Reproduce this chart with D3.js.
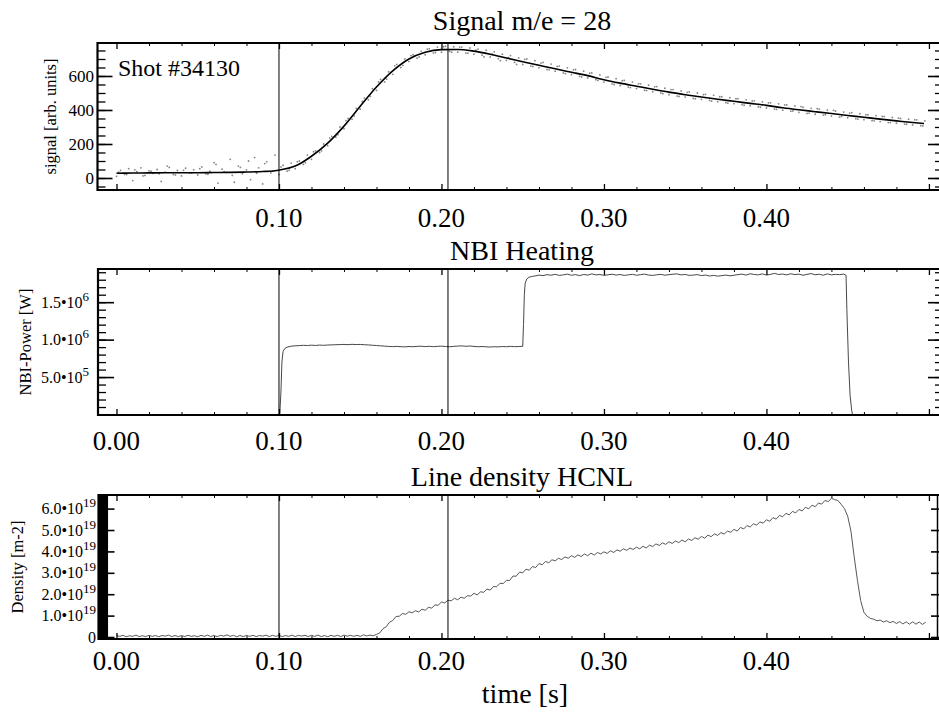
<!DOCTYPE html>
<html><head><meta charset="utf-8">
<script src="https://cdn.jsdelivr.net/npm/d3@7/dist/d3.min.js"></script>
<style>
body{margin:0;background:#fff}
svg{display:block}
svg text{font-family:"Liberation Serif","DejaVu Serif","Noto Serif","Times New Roman",Times,serif;fill:#000}
</style>
</head><body>
<svg id="chart" width="939" height="712" font-family="Liberation Serif, DejaVu Serif, Noto Serif, Times New Roman, serif"></svg>
<script>
// ---------------- DATA ----------------
const panelTitles = ["Signal m/e = 28", "NBI Heating", "Line density HCNL"];
const yAxisTitles = ["signal [arb. units]", "NBI-Power [W]", "Density [m-2]"];
const xAxisTitle = "time [s]";
const shotLabel = "Shot #34130";
const xDomain = [-0.012, 0.5062];
const xMajorTicks = [0, 0.1, 0.2, 0.3, 0.4, 0.5];
const xTickLabelsTop = ["0.10", "0.20", "0.30", "0.40"];
const xTickLabelValuesTop = [0.1, 0.2, 0.3, 0.4];
const xTickLabels = ["0.00", "0.10", "0.20", "0.30", "0.40"];
const xTickLabelValues = [0, 0.1, 0.2, 0.3, 0.4];
const markerTimes = [0.1, 0.204];

// Panel 1: mass spectrometer signal m/e = 28 (arb. units)
const signalTicks = [0, 200, 400, 600];
const signalTickLabels = ["0", "200", "400", "600"];
const signalFitTimes = [0.00,0.01,0.02,0.03,0.04,0.05,0.06,0.07,0.08,0.09,0.10,0.11,0.12,0.13,0.14,0.15,0.16,0.17,0.18,0.19,0.20,0.21,0.22,0.23,0.24,0.25,0.26,0.27,0.28,0.29,0.30,0.31,0.32,0.33,0.34,0.35,0.36,0.37,0.38,0.39,0.40,0.41,0.42,0.43,0.44,0.45,0.46,0.47,0.48,0.49,0.497];
const signalFitValues = [28,29,30,31,31,31,32,33,35,38,46,70,128,205,305,422,535,630,700,740,755,756,746,728,706,684,663,642,622,602,578,558,540,522,505,490,476,463,451,439,427,413,401,390,379,368,357,346,336,326,320];
const signalDotsAStart = 0.0, signalDotsAStep = 0.0025;
const signalDotsA = [10,45,22,55,-15,38,60,15,42,28,
50,-20,35,62,20,44,12,58,30,48,
18,65,25,40,90,-30,52,33,110,-25,
70,25,48,-10,120,60,-35,95,30,135,
20,75,40,88,55,100,80,135,110,160,
150,200,190,245,240,300,290,350,345,410,
405,470,460,525,515,580,565,625,610,668,
650,700,685,725,705,745,725,760,735,770,
740,775,745,772,740,770,735,765,728,758,
722,752,712,742,702,728,692,720,680,706,
668,700,658,690,648,680,638,670,628,658,
618,648,608,638,598,628,588,618,578,606,
564,594,554,584,544,574,535,564,526,554,
516,546,508,538,500,528,490,520,482,512,
476,506,468,500,462,492,456,486,449,478,
443,472,437,466,431,460,425,454,419,448,
412,442,405,436,399,430,393,424,386,416,
380,410,375,405,370,399,364,394,358,388,
354,384,348,378,343,372,337,367,332,361,
326,356,322,350,317,346,312,342,308,336];
const signalDotsBStart = 0.00125, signalDotsBStep = 0.005;
const signalDotsB = [35,20,48,12,40,25,70,18,45,30,
55,22,80,38,15,62,100,28,85,40,
65,45,95,90,155,160,235,255,338,365,
450,480,565,582,660,662,720,712,758,738,
772,740,770,734,752,712,730,690,708,668,
698,656,676,636,656,614,636,594,616,574,
592,550,572,532,554,514,536,496,520,480,
504,466,490,452,478,440,466,428,454,416,
442,404,430,394,420,382,408,372,398,362,
382,346,372,336,362,326,352,316,342,306];

// Panel 2: NBI power (units of 1e6 W)
const nbiTicks = [0.5, 1.0, 1.5];
const nbiTickMantissa = ["5.0", "1.0", "1.5"];
const nbiTickExponent = ["5", "6", "6"];
const nbiOnsetT = [-0.012,0.1005,0.1012,0.1018,0.1025,0.1035,0.105,0.1075,0.11];
const nbiOnsetP = [0,0,0.3,0.7,0.84,0.88,0.9,0.912,0.918];
const nbiSampleStep = 0.0025;
const nbiLowStart = 0.1125;
const nbiLowP = [0.92,0.924,0.921,0.926,0.922,0.927,0.924,0.928,0.93,0.932,
0.934,0.936,0.933,0.937,0.934,0.936,0.932,0.929,0.925,0.921,
0.917,0.913,0.909,0.906,0.91,0.906,0.903,0.908,0.905,0.91,
0.912,0.907,0.911,0.906,0.91,0.913,0.908,0.905,0.91,0.914,
0.916,0.911,0.915,0.909,0.905,0.908,0.904,0.901,0.905,0.903,
0.908,0.905,0.91,0.906,0.908,0.91];
const nbiStepT = [0.2505,0.251,0.2515,0.2525,0.254,0.256];
const nbiStepP = [1.2,1.6,1.75,1.81,1.835,1.845];
const nbiHighStart = 0.2575;
const nbiHighP = [1.85,1.862,1.855,1.868,1.86,1.872,1.858,1.865,1.875,1.86,
1.868,1.855,1.87,1.862,1.878,1.865,1.87,1.858,1.866,1.874,
1.862,1.87,1.858,1.865,1.872,1.86,1.868,1.875,1.862,1.858,
1.866,1.872,1.86,1.868,1.874,1.878,1.865,1.87,1.858,1.862,
1.868,1.855,1.862,1.85,1.858,1.848,1.855,1.862,1.852,1.86,
1.868,1.875,1.862,1.88,1.87,1.865,1.878,1.862,1.872,1.885,
1.87,1.876,1.865,1.88,1.868,1.875,1.86,1.872,1.882,1.866,
1.874,1.86,1.878,1.865,1.872,1.868,1.875];
const nbiOffT = [0.449,0.4495,0.4505,0.4515,0.4525,0.453,0.5062];
const nbiOffP = [1.86,1.4,0.7,0.25,0.05,0,0];

// Panel 3: line density (units of 1e19 m^-2)
const densityTicks = [0,1,2,3,4,5,6];
const densityTickMantissa = ["0","1.0","2.0","3.0","4.0","5.0","6.0"];
const densityTickExponent = ["","19","19","19","19","19","19"];
const densitySaturatedBand = [-0.0108, -0.0052];
const densityStart = 0.0, densityStep = 0.002;
const densityValues = [0.07,0.03,0.08,0.01,0.06,0.03,0.09,0.02,0.06,0.02,
0.08,0.03,0.07,0.01,0.07,0.04,0.09,0.02,0.07,0.02,
0.07,0.02,0.08,0.03,0.06,0.01,0.08,0.03,0.09,0.02,
0.07,0.02,0.08,0.04,0.1,0.03,0.08,0.01,0.07,0.02,
0.08,0.03,0.08,0.02,0.07,0.04,0.09,0.02,0.08,0.03,
0.08,0.02,0.07,0.03,0.09,0.02,0.08,0.04,0.08,0.02,
0.08,0.03,0.09,0.02,0.07,0.01,0.08,0.03,0.08,0.02,
0.09,0.04,0.08,0.03,0.08,0.03,0.1,0.05,0.09,0.06,
0.12,0.19,0.39,0.48,0.69,0.77,0.96,0.97,1.1,1.06,
1.18,1.13,1.23,1.17,1.3,1.25,1.39,1.35,1.5,1.48,
1.64,1.59,1.72,1.69,1.81,1.74,1.86,1.81,1.93,1.91,
2.04,1.97,2.11,2.09,2.24,2.19,2.36,2.35,2.51,2.5,
2.65,2.64,2.85,2.84,3.03,3.0,3.17,3.12,3.29,3.25,
3.43,3.38,3.53,3.47,3.61,3.56,3.68,3.62,3.74,3.68,
3.8,3.72,3.84,3.76,3.88,3.8,3.92,3.83,3.95,3.88,
3.98,3.91,4.03,3.95,4.07,4.01,4.12,4.05,4.16,4.09,
4.2,4.12,4.24,4.16,4.29,4.23,4.35,4.28,4.4,4.33,
4.45,4.37,4.49,4.41,4.53,4.45,4.58,4.51,4.64,4.57,
4.7,4.62,4.76,4.69,4.82,4.75,4.88,4.81,4.95,4.89,
5.03,4.95,5.12,5.05,5.21,5.14,5.29,5.23,5.38,5.32,
5.48,5.41,5.58,5.51,5.68,5.62,5.78,5.71,5.87,5.8,
5.96,5.89,6.06,5.99,6.16,6.09,6.26,6.21,6.38,6.33,
6.48,6.42,6.38,6.2,6.0,5.65,4.95,3.75,2.65,1.7,
1.15,0.97,0.87,0.83,0.76,0.79,0.7,0.76,0.67,0.73,
0.63,0.72,0.61,0.71,0.6,0.71,0.6,0.7,0.59,0.69];

// ---------------- LAYOUT ----------------
const svg = d3.select("#chart");
const RIGHT = 939;
const x = d3.scaleLinear().domain(xDomain).range([97, RIGHT]);

const panels = [
  {top:43, bottom:190, left:97.5, yDomain:[-70.6,794], yMinor:d3.range(-50,800,50),
   titleY:30, labelY:227, yTitleX:50, majorL:15, minorL:8, rMajorL:11, rMinorL:4, rightBorder:false},
  {top:269, bottom:415, left:98, yDomain:[-0.0067,1.9433], yMinor:d3.range(1,20).map(d=>d/10),
   titleY:260, labelY:450, yTitleX:25, majorL:16, minorL:8, rMajorL:11, rMinorL:4, rightBorder:false},
  {top:495, bottom:639, left:98.5, yDomain:[-0.093,6.636], yMinor:[],
   titleY:486, labelY:670, yTitleX:17, majorL:16, minorL:0, rMajorL:8, rMinorL:0, rightBorder:true}
];
panels.forEach(p => { p.y = d3.scaleLinear().domain(p.yDomain).range([p.bottom, p.top]); });

const defs = svg.append("defs");
panels.forEach((p,i) => {
  defs.append("clipPath").attr("id","clip"+i).append("rect")
    .attr("x", p.left).attr("y", p.top).attr("width", RIGHT - p.left).attr("height", p.bottom - p.top);
});

function tickAxis(g, axis, sw){
  g.call(axis);
  g.attr("font-family", null);
  g.select(".domain").remove();
  g.selectAll("line").attr("stroke","#000").attr("stroke-width", sw);
  g.selectAll("text").remove();
}

function T(sel){ return sel.attr("font-family","Liberation Serif, DejaVu Serif, Noto Serif, Times New Roman, serif"); }

function drawFrame(p, i, xLabelVals, xLabelTxt){
  const g = svg.append("g");
  const xMinor = d3.range(0.02, 0.5, 0.02).filter(v => Math.abs(v*10 - Math.round(v*10)) > 1e-6);
  tickAxis(g.append("g").attr("transform",`translate(0,${p.bottom})`), d3.axisBottom(x).tickValues(xMajorTicks).tickSize(-6), 1.3);
  tickAxis(g.append("g").attr("transform",`translate(0,${p.bottom})`), d3.axisBottom(x).tickValues(xMinor).tickSize(-3), 1);
  tickAxis(g.append("g").attr("transform",`translate(0,${p.top})`), d3.axisTop(x).tickValues(xMajorTicks).tickSize(-6), 1.3);
  tickAxis(g.append("g").attr("transform",`translate(0,${p.top})`), d3.axisTop(x).tickValues(xMinor).tickSize(-3), 1);
  const majors = i===0 ? signalTicks : (i===1 ? nbiTicks : densityTicks);
  tickAxis(g.append("g").attr("transform",`translate(${p.left},0)`), d3.axisLeft(p.y).tickValues(majors).tickSize(-p.majorL), 1.6);
  tickAxis(g.append("g").attr("transform",`translate(${RIGHT},0)`), d3.axisRight(p.y).tickValues(majors).tickSize(-p.rMajorL), 1.6);
  if (p.yMinor.length){
    tickAxis(g.append("g").attr("transform",`translate(${p.left},0)`), d3.axisLeft(p.y).tickValues(p.yMinor).tickSize(-p.minorL), 1.3);
    tickAxis(g.append("g").attr("transform",`translate(${RIGHT},0)`), d3.axisRight(p.y).tickValues(p.yMinor).tickSize(-p.rMinorL), 1.3);
  }
  g.append("line").attr("x1",p.left).attr("x2",RIGHT).attr("y1",p.top).attr("y2",p.top).attr("stroke","#000").attr("stroke-width",2);
  g.append("line").attr("x1",p.left).attr("x2",RIGHT).attr("y1",p.bottom).attr("y2",p.bottom).attr("stroke","#000").attr("stroke-width",2.2);
  g.append("line").attr("x1",p.left).attr("x2",p.left).attr("y1",p.top-1).attr("y2",p.bottom+1).attr("stroke","#000").attr("stroke-width",2.2);
  if (p.rightBorder)
    g.append("line").attr("x1",RIGHT-1.5).attr("x2",RIGHT-1.5).attr("y1",p.top).attr("y2",p.bottom).attr("stroke","#000").attr("stroke-width",1.5);
  T(g.selectAll("text.xl").data(xLabelVals).join("text").attr("class","xl")
    .attr("x", d => x(d)).attr("y", p.labelY).attr("text-anchor","middle"))
    .style("font-size","27px").text((d,k) => xLabelTxt[k]);
  T(g.append("text").attr("x",522).attr("y",p.titleY).attr("text-anchor","middle"))
    .style("font-size","28px").text(panelTitles[i]);
  T(g.append("text").attr("transform",`translate(${p.yTitleX},${(p.top+p.bottom)/2}) rotate(-90)`)
    .attr("text-anchor","middle").attr("dy","0.35em")).style("font-size","16.5px").text(yAxisTitles[i]);
  return g;
}

function supLabel(g, xp, yp, mant, exp, size){
  const t = T(g.append("text").attr("x",xp).attr("y",yp).attr("dy","0.35em")
    .attr("text-anchor","end")).style("font-size",size+"px");
  if (exp){
    t.append("tspan").text(mant + "\u202210");
    t.append("tspan").attr("dy",-7).style("font-size",(size-3)+"px").text(exp);
  } else t.text(mant);
}

// ---------- Panel 1 ----------
{
  const p = panels[0];
  const data = svg.append("g").attr("clip-path","url(#clip0)");
  const dotsA = signalDotsA.map((v,k) => [signalDotsAStart + k*signalDotsAStep, v]);
  const dotsB = signalDotsB.map((v,k) => [signalDotsBStart + k*signalDotsBStep, v]);
  data.selectAll("circle.a").data(dotsA.concat(dotsB)).join("circle")
    .attr("cx", d => x(d[0])).attr("cy", d => p.y(d[1])).attr("r", 0.9)
    .attr("fill","#666").attr("opacity",0.8);
  const fit = signalFitTimes.map((t,k) => [t, signalFitValues[k]]);
  data.append("path").datum(fit)
    .attr("d", d3.line().x(d => x(d[0])).y(d => p.y(d[1])).curve(d3.curveMonotoneX))
    .attr("fill","none").attr("stroke","#000").attr("stroke-width",1.6);
  markerTimes.forEach(t => data.append("line").attr("x1",x(t)).attr("x2",x(t))
    .attr("y1",p.top).attr("y2",p.bottom).attr("stroke","#000").attr("stroke-width",1));
  const g = drawFrame(p, 0, xTickLabelValuesTop, xTickLabelsTop);
  signalTicks.forEach((v,k) => supLabel(g, 94, p.y(v), signalTickLabels[k], "", 17));
  T(g.append("text").attr("x",118).attr("y",76)).style("font-size","24px").text(shotLabel);
}

// ---------- Panel 2 ----------
{
  const p = panels[1];
  const data = svg.append("g").attr("clip-path","url(#clip1)");
  const pts = [];
  nbiOnsetT.forEach((t,k) => pts.push([t, nbiOnsetP[k]]));
  nbiLowP.forEach((v,k) => pts.push([nbiLowStart + k*nbiSampleStep, v]));
  nbiStepT.forEach((t,k) => pts.push([t, nbiStepP[k]]));
  nbiHighP.forEach((v,k) => pts.push([nbiHighStart + k*nbiSampleStep, v]));
  nbiOffT.forEach((t,k) => pts.push([t, nbiOffP[k]]));
  data.append("path").datum(pts)
    .attr("d", d3.line().x(d => x(d[0])).y(d => p.y(d[1])))
    .attr("fill","none").attr("stroke","#333").attr("stroke-width",0.9);
  markerTimes.forEach(t => data.append("line").attr("x1",x(t)).attr("x2",x(t))
    .attr("y1",p.top).attr("y2",p.bottom).attr("stroke","#000").attr("stroke-width",1));
  const g = drawFrame(p, 1, xTickLabelValues, xTickLabels);
  nbiTicks.forEach((v,k) => supLabel(g, 89, p.y(v), nbiTickMantissa[k], nbiTickExponent[k], 16));
}

// ---------- Panel 3 ----------
{
  const p = panels[2];
  const data = svg.append("g").attr("clip-path","url(#clip2)");
  data.append("rect").attr("x", x(densitySaturatedBand[0])).attr("y", p.top)
    .attr("width", x(densitySaturatedBand[1]) - x(densitySaturatedBand[0]))
    .attr("height", p.bottom - p.top).attr("fill","#000");
  const pts = densityValues.map((v,k) => [densityStart + k*densityStep, v]);
  data.append("path").datum(pts)
    .attr("d", d3.line().x(d => x(d[0])).y(d => p.y(d[1])))
    .attr("fill","none").attr("stroke","#444").attr("stroke-width",0.9);
  markerTimes.forEach(t => data.append("line").attr("x1",x(t)).attr("x2",x(t))
    .attr("y1",p.top).attr("y2",p.bottom).attr("stroke","#000").attr("stroke-width",1));
  const g = drawFrame(p, 2, xTickLabelValues, xTickLabels);
  densityTicks.forEach((v,k) => supLabel(g, 96, p.y(v), densityTickMantissa[k], densityTickExponent[k], 16));
  T(g.append("text").attr("x",525).attr("y",703).attr("text-anchor","middle"))
    .style("font-size","28px").text(xAxisTitle);
}
</script>
</body></html>
